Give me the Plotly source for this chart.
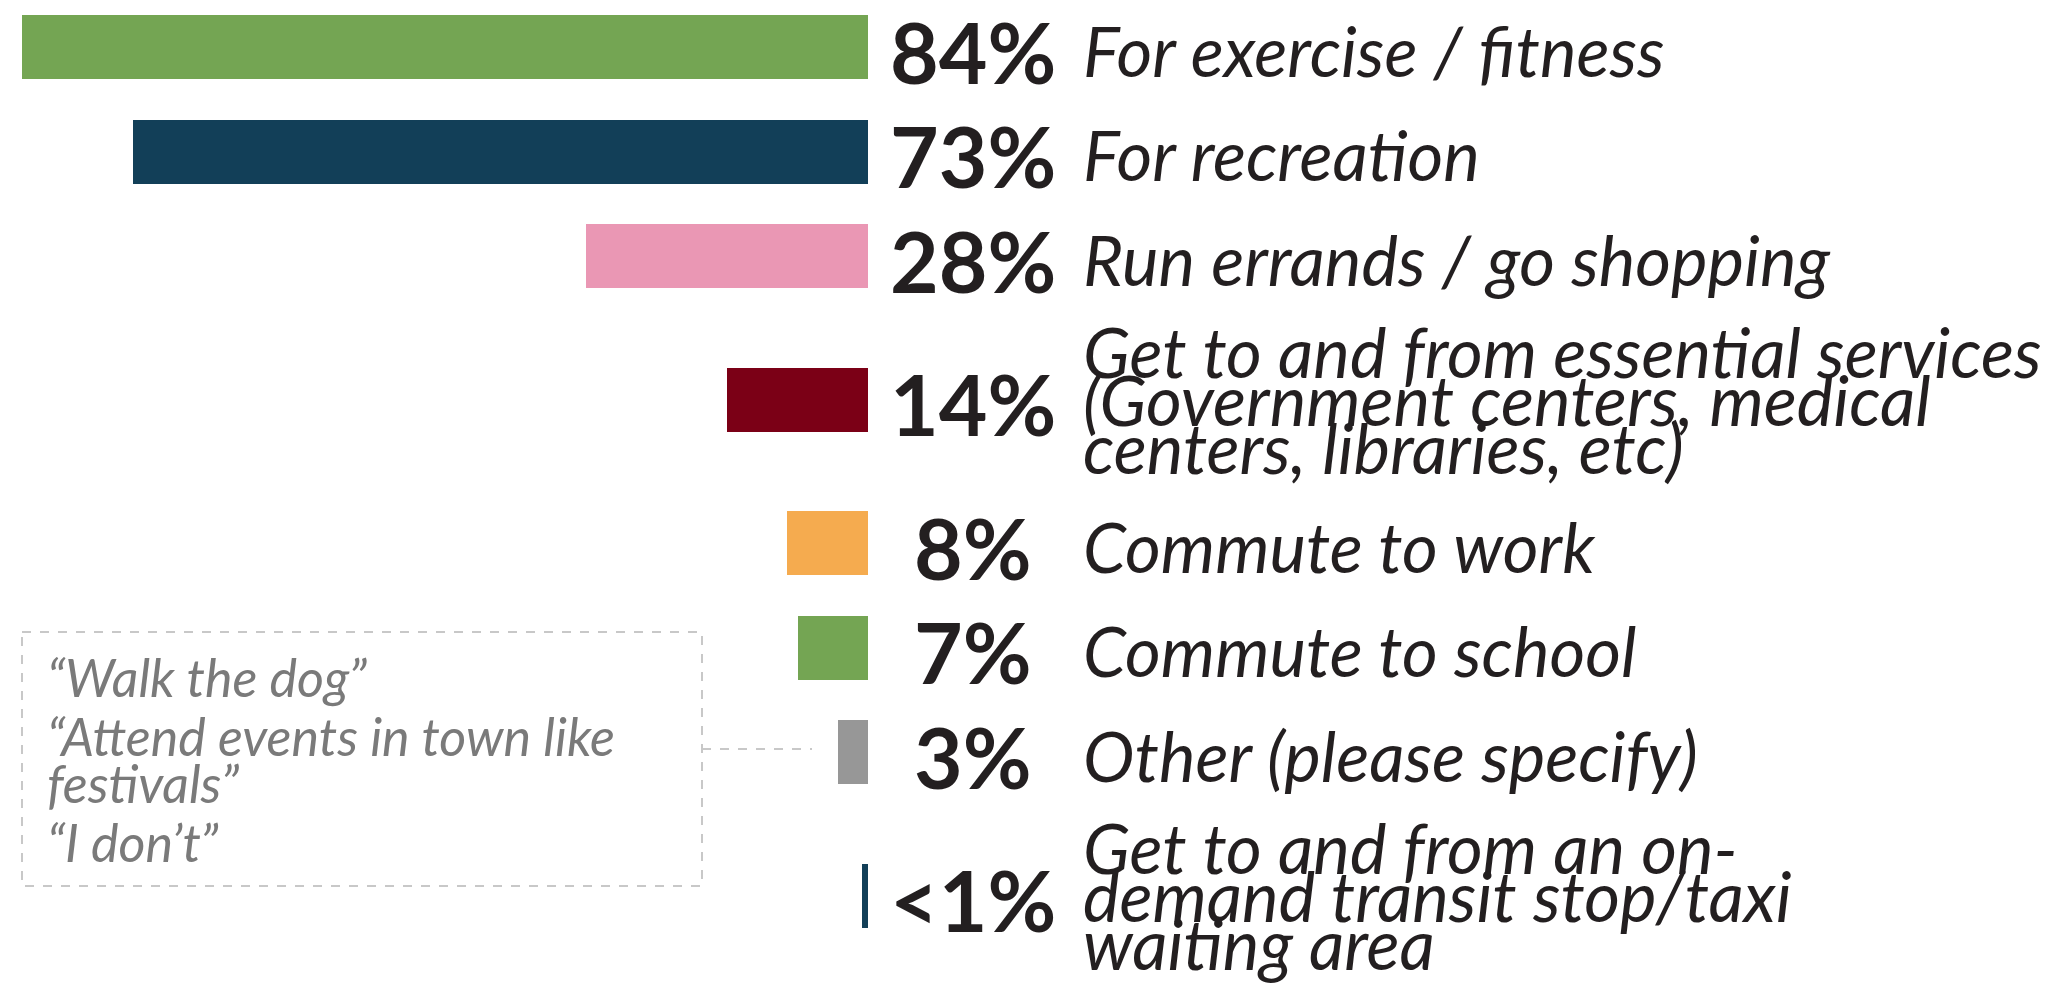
import plotly.graph_objects as go

# ---------------- data ----------------
categories = [
    "For exercise / fitness",
    "For recreation",
    "Run errands / go shopping",
    "Get to and from essential services<br>(Government centers, medical<br>centers, libraries, etc)",
    "Commute to work",
    "Commute to school",
    "Other (please specify)",
    "Get to and from an on-<br>demand transit stop/taxi<br>waiting area",
]
values = [84, 73, 28, 14, 8, 7, 3, 0.6]
value_labels = ["84%", "73%", "28%", "14%", "8%", "7%", "3%", "<1%"]
colors = ["#74A553", "#123F58", "#EA97B4", "#7B0016", "#F5AB4F", "#74A553", "#979797", "#123F58"]
other_quotes = ["\u201cWalk the dog\u201d",
                "\u201cAttend events in town like<br>festivals\u201d",
                "\u201cI don\u2019t\u201d"]

# ---------------- layout constants ----------------
W, H = 2062, 988
PX_PER_PCT = 10.07
BAR_END_PX = 868
BAR_H = 64
FIRST_ROW = 47
ROW_BASE_GAP = 104.5
EXTRA_PER_LINE = 19.5
LINE_PITCH = 48
PCT_X_PX = 973
LABEL_X_PX = 1081
TEXT_COLOR = "#231F20"
FONT = "Lato, 'Open Sans', sans-serif"

# row centres computed from label line counts
nlines = [c.count("<br>") + 1 for c in categories]
rows = [FIRST_ROW]
for i in range(1, len(categories)):
    gap = ROW_BASE_GAP + EXTRA_PER_LINE * ((nlines[i - 1] - 1) + (nlines[i] - 1))
    rows.append(rows[-1] + gap)

fig = go.Figure()
fig.add_trace(go.Bar(
    x=values, y=rows, orientation="h", width=BAR_H,
    marker=dict(color=colors, line=dict(width=0)),
    hoverinfo="skip", showlegend=False,
))

left_units = BAR_END_PX / PX_PER_PCT
right_units = -(W - BAR_END_PX) / PX_PER_PCT

annotations = []
for r, lab, cat, n in zip(rows, value_labels, categories, nlines):
    annotations.append(dict(
        x=PCT_X_PX / W, xref="paper", y=r + 4, yref="y", text=lab,
        showarrow=False, xanchor="center", yanchor="middle",
        font=dict(family=FONT, size=84, color=TEXT_COLOR, weight="bold"),
    ))
    lines = cat.split("<br>")
    for k, ln in enumerate(lines):
        yy = r + (k - (n - 1) / 2) * LINE_PITCH + (3 if n == 1 else 0)
        annotations.append(dict(
            x=LABEL_X_PX / W, xref="paper", y=yy, yref="y",
            text="<i>" + ln + "</i>", showarrow=False,
            xanchor="left", yanchor="middle",
            font=dict(family=FONT, size=69, color=TEXT_COLOR),
        ))

# callout box for "Other"
BOX_X0, BOX_X1, BOX_Y0, BOX_Y1 = 22, 702, 632, 886
QUOTE_X = 45
QUOTE_TOP = 677
QUOTE_PITCH = 47
QUOTE_GAP = 12
other_row = rows[categories.index("Other (please specify)")]
yq = QUOTE_TOP
for q in other_quotes:
    for ln in q.split("<br>"):
        annotations.append(dict(
            x=QUOTE_X / W, xref="paper", y=yq, yref="y",
            text="<i>" + ln + "</i>", showarrow=False,
            xanchor="left", yanchor="middle",
            font=dict(family=FONT, size=52, color="#7A7A7A"),
        ))
        yq += QUOTE_PITCH
    yq += QUOTE_GAP

shapes = [
    dict(type="rect", xref="paper", yref="y", x0=BOX_X0 / W, x1=BOX_X1 / W,
         y0=BOX_Y0, y1=BOX_Y1, line=dict(color="#C8C8C8", width=2, dash="dash"),
         fillcolor="rgba(0,0,0,0)"),
    dict(type="line", xref="paper", yref="y", x0=BOX_X1 / W, x1=812 / W,
         y0=other_row - 3, y1=other_row - 3,
         line=dict(color="#C8C8C8", width=2, dash="dash")),
]

fig.update_layout(
    width=W, height=H,
    margin=dict(l=0, r=0, t=0, b=0),
    paper_bgcolor="white", plot_bgcolor="white",
    xaxis=dict(range=[left_units, right_units], visible=False, fixedrange=True),
    yaxis=dict(range=[H, 0], visible=False, fixedrange=True),
    annotations=annotations, shapes=shapes,
    bargap=0, showlegend=False,
)

fig.write_html("out.html", config={"displayModeBar": False},
               post_script="document.body.style.margin='0px';document.body.style.overflow='hidden';")
